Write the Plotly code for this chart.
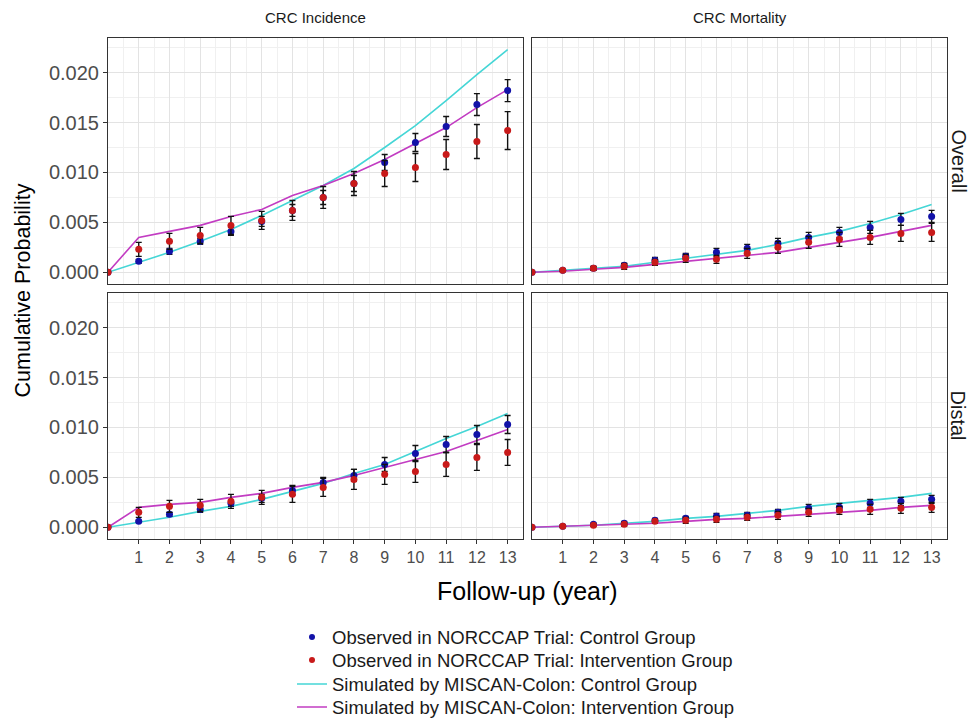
import plotly.graph_objects as go

# ---------------- data ----------------
years = list(range(0, 14))
tick_years = list(range(1, 14))
y_ticks = [0.0, 0.005, 0.010, 0.015, 0.020]

# CRC incidence, overall
inc_all_ctrl_obs = [0, 0.0011, 0.0021, 0.0031, 0.0041, 0.0051, 0.0062, 0.0075, 0.0089, 0.0110, 0.0130, 0.0146, 0.0168, 0.0182]
inc_all_ctrl_err = [0, 0.0002, 0.0003, 0.0003, 0.0004, 0.0005, 0.0006, 0.0007, 0.0008, 0.0008, 0.0009, 0.0010, 0.0011, 0.0011]
inc_all_int_obs = [0, 0.0023, 0.0031, 0.0037, 0.0047, 0.0052, 0.0062, 0.0075, 0.0089, 0.0099, 0.0105, 0.0118, 0.0131, 0.0142]
inc_all_int_err = [0, 0.0007, 0.0008, 0.0008, 0.0009, 0.0009, 0.0010, 0.0011, 0.0012, 0.0013, 0.0014, 0.0015, 0.0017, 0.0019]
inc_all_ctrl_sim = [0, 0.0010, 0.0020, 0.0031, 0.0043, 0.0057, 0.0072, 0.0087, 0.0104, 0.0125, 0.0147, 0.0172, 0.0198, 0.0223]
inc_all_int_sim = [0, 0.0035, 0.0041, 0.0047, 0.0056, 0.0063, 0.0077, 0.0087, 0.0099, 0.0113, 0.0129, 0.0145, 0.0165, 0.0183]

# CRC mortality, overall
mort_all_ctrl_obs = [0, 0.0002, 0.0004, 0.0007, 0.0012, 0.0016, 0.0020, 0.0024, 0.0029, 0.0035, 0.0040, 0.0045, 0.0053, 0.0056]
mort_all_ctrl_err = [0, 0.0001, 0.0002, 0.0002, 0.0003, 0.0003, 0.0004, 0.0004, 0.0005, 0.0005, 0.0005, 0.0006, 0.0006, 0.0006]
mort_all_int_obs = [0, 0.0002, 0.0004, 0.0006, 0.0010, 0.0014, 0.0013, 0.0019, 0.0025, 0.0030, 0.0033, 0.0035, 0.0039, 0.0040]
mort_all_int_err = [0, 0.0001, 0.0002, 0.0003, 0.0003, 0.0004, 0.0004, 0.0005, 0.0006, 0.0006, 0.0007, 0.0007, 0.0008, 0.0009]
mort_all_ctrl_sim = [0, 0.0002, 0.0004, 0.0006, 0.0010, 0.0014, 0.0018, 0.0022, 0.0028, 0.0035, 0.0041, 0.0049, 0.0058, 0.0068]
mort_all_int_sim = [0, 0.0001, 0.0003, 0.0005, 0.0008, 0.0011, 0.0014, 0.0017, 0.0020, 0.0025, 0.0030, 0.0035, 0.0041, 0.0047]

# CRC incidence, distal
inc_dis_ctrl_obs = [0, 0.0006, 0.0013, 0.0018, 0.0024, 0.0029, 0.0037, 0.0045, 0.0052, 0.0063, 0.0074, 0.0083, 0.0093, 0.0103]
inc_dis_ctrl_err = [0, 0.0001, 0.0002, 0.0003, 0.0003, 0.0004, 0.0005, 0.0005, 0.0006, 0.0007, 0.0008, 0.0008, 0.0009, 0.0009]
inc_dis_int_obs = [0, 0.0015, 0.0021, 0.0022, 0.0026, 0.0030, 0.0033, 0.0040, 0.0048, 0.0053, 0.0056, 0.0063, 0.0070, 0.0075]
inc_dis_int_err = [0, 0.0005, 0.0006, 0.0006, 0.0007, 0.0007, 0.0008, 0.0009, 0.0010, 0.0010, 0.0011, 0.0012, 0.0013, 0.0013]
inc_dis_ctrl_sim = [0, 0.0005, 0.0010, 0.0016, 0.0021, 0.0028, 0.0036, 0.0044, 0.0054, 0.0063, 0.0076, 0.0089, 0.0101, 0.0114]
inc_dis_int_sim = [0, 0.0020, 0.0023, 0.0025, 0.0030, 0.0034, 0.0040, 0.0045, 0.0052, 0.0060, 0.0068, 0.0076, 0.0087, 0.0098]

# CRC mortality, distal
mort_dis_ctrl_obs = [0, 0.0001, 0.0003, 0.0004, 0.0007, 0.0009, 0.0011, 0.0012, 0.0015, 0.0019, 0.0020, 0.0024, 0.0026, 0.0028]
mort_dis_ctrl_err = [0, 0.0001, 0.0001, 0.0002, 0.0002, 0.0002, 0.0003, 0.0003, 0.0003, 0.0004, 0.0004, 0.0004, 0.0004, 0.0004]
mort_dis_int_obs = [0, 0.0001, 0.0002, 0.0003, 0.0006, 0.0007, 0.0008, 0.0010, 0.0012, 0.0015, 0.0017, 0.0018, 0.0019, 0.0020]
mort_dis_int_err = [0, 0.0001, 0.0001, 0.0002, 0.0002, 0.0003, 0.0003, 0.0003, 0.0004, 0.0004, 0.0004, 0.0005, 0.0005, 0.0005]
mort_dis_ctrl_sim = [0, 0.0001, 0.0002, 0.0004, 0.0006, 0.0009, 0.0011, 0.0014, 0.0017, 0.0021, 0.0024, 0.0027, 0.0030, 0.0034]
mort_dis_int_sim = [0, 0.0001, 0.0002, 0.0003, 0.0004, 0.0006, 0.0008, 0.0009, 0.0011, 0.0013, 0.0015, 0.0017, 0.0020, 0.0022]

col_titles = ["CRC Incidence", "CRC Mortality"]
row_titles = ["Overall", "Distal"]
legend_names = [
    "Observed in NORCCAP Trial: Control Group",
    "Observed in NORCCAP Trial: Intervention Group",
    "Simulated by MISCAN-Colon: Control Group",
    "Simulated by MISCAN-Colon: Intervention Group",
]

# ---------------- style ----------------
C_BLUE = "#1212A8"
C_RED = "#C81A1A"
C_CYAN = "#45D6D6"
C_MAG = "#C23CC2"
FONT = "Liberation Sans, Arial, sans-serif"

W, H = 980, 723
OX, OY = 7, 7.5  # page offset of the plot inside the browser window


def px(x):
    return (x - OX) / W


def py(y):
    return 1 - (y - OY) / H


panels = [
    ("x", "y", inc_all_ctrl_obs, inc_all_ctrl_err, inc_all_int_obs, inc_all_int_err, inc_all_ctrl_sim, inc_all_int_sim),
    ("x2", "y2", mort_all_ctrl_obs, mort_all_ctrl_err, mort_all_int_obs, mort_all_int_err, mort_all_ctrl_sim, mort_all_int_sim),
    ("x3", "y3", inc_dis_ctrl_obs, inc_dis_ctrl_err, inc_dis_int_obs, inc_dis_int_err, inc_dis_ctrl_sim, inc_dis_int_sim),
    ("x4", "y4", mort_dis_ctrl_obs, mort_dis_ctrl_err, mort_dis_int_obs, mort_dis_int_err, mort_dis_ctrl_sim, mort_dis_int_sim),
]

fig = go.Figure()
for xa, ya, co, ce, io, ie, cs, isim in panels:
    fig.add_trace(go.Scatter(x=years, y=cs, mode="lines", line=dict(color=C_CYAN, width=1.6),
                             xaxis=xa, yaxis=ya, showlegend=False))
    fig.add_trace(go.Scatter(x=years, y=isim, mode="lines", line=dict(color=C_MAG, width=1.6),
                             xaxis=xa, yaxis=ya, showlegend=False))
    fig.add_trace(go.Scatter(x=years, y=co, mode="markers", marker=dict(color=C_BLUE, size=7),
                             error_y=dict(type="data", array=ce, color="#111111", thickness=1.4, width=3),
                             xaxis=xa, yaxis=ya, showlegend=False))
    fig.add_trace(go.Scatter(x=years, y=io, mode="markers", marker=dict(color=C_RED, size=7),
                             error_y=dict(type="data", array=ie, color="#111111", thickness=1.4, width=3),
                             xaxis=xa, yaxis=ya, showlegend=False))

# legend entries (one legend per row so rows can sit at exact positions)
fig.add_trace(go.Scatter(x=[None], y=[None], mode="markers", marker=dict(color=C_BLUE, size=6),
                         name=legend_names[0], legend="legend"))
fig.add_trace(go.Scatter(x=[None], y=[None], mode="markers", marker=dict(color=C_RED, size=6),
                         name=legend_names[1], legend="legend2"))
fig.add_trace(go.Scatter(x=[None], y=[None], mode="lines", line=dict(color=C_CYAN, width=1.6),
                         name=legend_names[2], legend="legend3"))
fig.add_trace(go.Scatter(x=[None], y=[None], mode="lines", line=dict(color=C_MAG, width=1.6),
                         name=legend_names[3], legend="legend4"))

xL = [px(107), px(522)]
xR = [px(531), px(946)]
yT = [py(283), py(37)]
yB = [py(538), py(292)]

grid_major = "#E3E3E3"
grid_minor = "#F0F0F0"


def xaxis(domain, anchor, show):
    return dict(domain=domain, anchor=anchor, range=[0, 13.5], tickmode="array", tickvals=tick_years,
                showticklabels=show, ticks="outside" if show else "", ticklen=4, tickcolor="#333333",
                tickfont=dict(family=FONT, size=16, color="#4D4D4D"), automargin=False,
                showgrid=True, gridcolor=grid_major, gridwidth=1, zeroline=False,
                minor=dict(tickmode="array", tickvals=[v + 0.5 for v in years], showgrid=True,
                           gridcolor=grid_minor, gridwidth=0.8),
                showline=True, mirror=True, linecolor="#333333", linewidth=1)


def yaxis(domain, anchor, show):
    return dict(domain=domain, anchor=anchor, range=[-0.00112, 0.02352], tickmode="array", tickvals=y_ticks,
                tickformat=".3f", showticklabels=show, ticks="outside" if show else "", ticklen=4,
                tickcolor="#333333", tickfont=dict(family=FONT, size=20, color="#4D4D4D"), automargin=False,
                showgrid=True, gridcolor=grid_major, gridwidth=1, zeroline=False,
                minor=dict(tickmode="array", tickvals=[v + 0.0025 for v in y_ticks], showgrid=True,
                           gridcolor=grid_minor, gridwidth=0.8),
                showline=True, mirror=True, linecolor="#333333", linewidth=1)


def ann(text, x, y, size, angle=0, color="#1A1A1A"):
    return dict(text=text, x=x, y=y, xref="paper", yref="paper", xanchor="center", yanchor="middle",
                textangle=angle, showarrow=False, font=dict(family=FONT, size=size, color=color))


annotations = [
    ann(col_titles[0], (xL[0] + xL[1]) / 2, py(17), 15),
    ann(col_titles[1], (xR[0] + xR[1]) / 2, py(17), 15),
    ann(row_titles[0], px(957), (yT[0] + yT[1]) / 2, 20, 90),
    ann(row_titles[1], px(957), (yB[0] + yB[1]) / 2, 20, 90),
    ann("Cumulative Probability", px(22), py(290), 21.5, -90, "#000000"),
    ann("Follow-up (year)", (xL[0] + xR[1]) / 2, py(590), 25, 0, "#000000"),
]


def leg(ypix):
    return dict(x=px(291), y=py(ypix), xanchor="left", yanchor="middle", bgcolor="rgba(0,0,0,0)",
                font=dict(family=FONT, size=18.5, color="#1A1A1A"), itemwidth=30)


fig.update_layout(
    width=W, height=H,
    margin=dict(l=0, r=0, t=0, b=0, autoexpand=False),
    paper_bgcolor="white", plot_bgcolor="white",
    xaxis=xaxis(xL, "y", False), yaxis=yaxis(yT, "x", True),
    xaxis2=xaxis(xR, "y2", False), yaxis2=yaxis(yT, "x2", False),
    xaxis3=xaxis(xL, "y3", True), yaxis3=yaxis(yB, "x3", True),
    xaxis4=xaxis(xR, "y4", True), yaxis4=yaxis(yB, "x4", False),
    annotations=annotations,
    showlegend=True,
    legend=leg(637), legend2=leg(660), legend3=leg(684), legend4=leg(707),
)

fig.write_html("out.html")
